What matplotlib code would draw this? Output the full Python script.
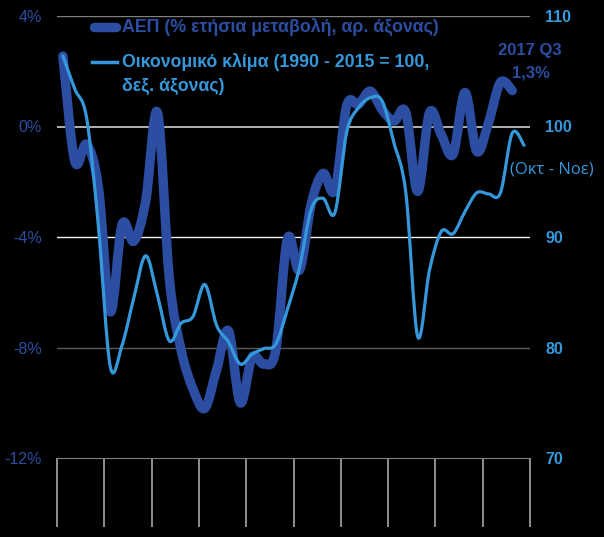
import numpy as np
import matplotlib
matplotlib.use("Agg")
import matplotlib.pyplot as plt
from matplotlib.path import Path
from matplotlib.patches import PathPatch
from matplotlib.lines import Line2D

plt.rcParams["font.family"] = ["Liberation Sans", "DejaVu Sans"]

# quarterly categories 2008 Q1 .. 2017 Q4
years = list(range(2008, 2018))
categories = [f"{y} Q{q}" for y in years for q in (1, 2, 3, 4)]

# GDP, % yoy (left axis), 2008 Q1 .. 2017 Q3
gdp = [2.55, -1.25, -0.65, -2.2, -6.7, -3.55, -4.15, -2.7, 0.5, -5.5,
       -8.1, -9.5, -10.2, -8.8, -7.4, -10.0, -8.35, -8.6, -8.1, -4.05,
       -5.2, -2.8, -1.7, -2.3, 0.75, 0.8, 1.28, 0.6, 0.2, 0.5,
       -2.35, 0.5, -0.3, -1.0, 1.23, -0.9, 0.15, 1.6, 1.3]

# economic sentiment (1990-2015 = 100, right axis), 2008 Q1 .. 2017 Q4 (Oct-Nov)
climate = [106.4, 103.4, 100.8, 91.0, 78.3, 80.2, 84.5, 88.3, 84.7, 80.6,
           82.2, 82.8, 85.7, 82.0, 80.5, 78.5, 79.4, 79.9, 80.3, 83.5,
           87.2, 92.5, 93.5, 92.2, 99.5, 101.7, 102.6, 102.3, 98.5, 94.0,
           81.0, 87.0, 90.5, 90.3, 92.3, 94.0, 93.9, 94.0, 99.4, 98.3]

left_ticks = [-12, -8, -4, 0, 4]
right_ticks = [70, 80, 90, 100, 110]

GDP_COLOR = "#2B4EA2"
CLIMATE_COLOR = "#3498DB"


def smooth_path(xs, ys):
    """Catmull-Rom style smoothed line as a bezier path (like excel smoothed lines)."""
    pts = np.column_stack([xs, ys]).astype(float)
    ext = np.vstack([pts[0], pts, pts[-1]])
    verts = [pts[0]]
    codes = [Path.MOVETO]
    for i in range(len(pts) - 1):
        p0, p1, p2, p3 = ext[i], ext[i + 1], ext[i + 2], ext[i + 3]
        verts += [p1 + (p2 - p0) / 6, p2 - (p3 - p1) / 6, p2]
        codes += [Path.CURVE4] * 3
    return Path(verts, codes)


fig = plt.figure(figsize=(6.04, 5.37), dpi=100, facecolor="black")
ax = fig.add_axes([57 / 604, 1 - 458 / 537, 473 / 604, 442 / 537])
ax.set_facecolor("black")
ax2 = ax.twinx()

x = np.arange(len(categories))

# grid lines
grid_colors = {4: "#7F7F7F", 0: "#BFBFBF", -4: "#F2F2F2", -8: "#595959"}
for y, c in grid_colors.items():
    ax.axhline(y, color=c, lw=1.3 if y == 0 else 1.0, zorder=0.5)

ax.add_patch(PathPatch(smooth_path(x[:len(gdp)], gdp), fill=False,
                       edgecolor=GDP_COLOR, lw=6.8, capstyle="round",
                       joinstyle="round", zorder=2))
ax2.add_patch(PathPatch(smooth_path(x[:len(climate)], climate), fill=False,
                        edgecolor=CLIMATE_COLOR, lw=2.3, capstyle="round",
                        joinstyle="round", zorder=2))

ax.set_xlim(-0.5, len(categories) - 0.5)
ax.set_ylim(-12, 4)
ax2.set_ylim(70, 110)

ax.set_xticks(np.arange(-0.5, len(categories), 4))
ax.set_xticklabels([])
ax.tick_params(axis="x", length=50, width=1.2, color="#A6A6A6", direction="out")

ax.set_yticks(left_ticks)
ax.set_yticklabels([f"{v}%" for v in left_ticks])
ax.tick_params(axis="y", length=0, pad=11, labelcolor=GDP_COLOR, labelsize=11.5)
ax2.set_yticks(right_ticks)
ax2.set_yticklabels([str(v) for v in right_ticks], fontweight="bold")
ax2.tick_params(axis="y", length=0, pad=11, labelcolor=CLIMATE_COLOR, labelsize=11.5)

for a in (ax, ax2):
    for s in a.spines.values():
        s.set_visible(False)
ax.spines["bottom"].set_visible(True)
ax.spines["bottom"].set_color("#808080")

# legend, drawn by hand (second label wraps with handle on first line)
fig.add_artist(Line2D([94 / 604, 116 / 604], [1 - 27 / 537] * 2, transform=fig.transFigure,
                      color=GDP_COLOR, lw=6.8, solid_capstyle="round"))
fig.text(122 / 604, 1 - 27 / 537, "ΑΕΠ (% ετήσια μεταβολή, αρ. άξονας)",
         color=GDP_COLOR, fontsize=12.8, fontweight="bold", va="center")
fig.add_artist(Line2D([92 / 604, 117 / 604], [1 - 62 / 537] * 2, transform=fig.transFigure,
                      color=CLIMATE_COLOR, lw=2.5))
fig.text(122 / 604, 1 - 62 / 537, "Οικονομικό κλίμα (1990 - 2015 = 100,",
         color=CLIMATE_COLOR, fontsize=12.8, fontweight="bold", va="center")
fig.text(122 / 604, 1 - 86 / 537, "δεξ. άξονας)",
         color=CLIMATE_COLOR, fontsize=12.8, fontweight="bold", va="center")

# annotations
fig.text(530 / 604, 1 - 51 / 537, "2017 Q3", color=GDP_COLOR, fontsize=12,
         fontweight="bold", ha="center", va="center")
fig.text(531 / 604, 1 - 73 / 537, "1,3%", color=GDP_COLOR, fontsize=12,
         fontweight="bold", ha="center", va="center")
fig.text(552 / 604, 1 - 170 / 537, "(Οκτ - Νοε)", color=CLIMATE_COLOR, fontsize=12,
         family=["Open Sans", "DejaVu Sans"], ha="center", va="center")

fig.savefig("out.png", dpi=100, facecolor="black")
